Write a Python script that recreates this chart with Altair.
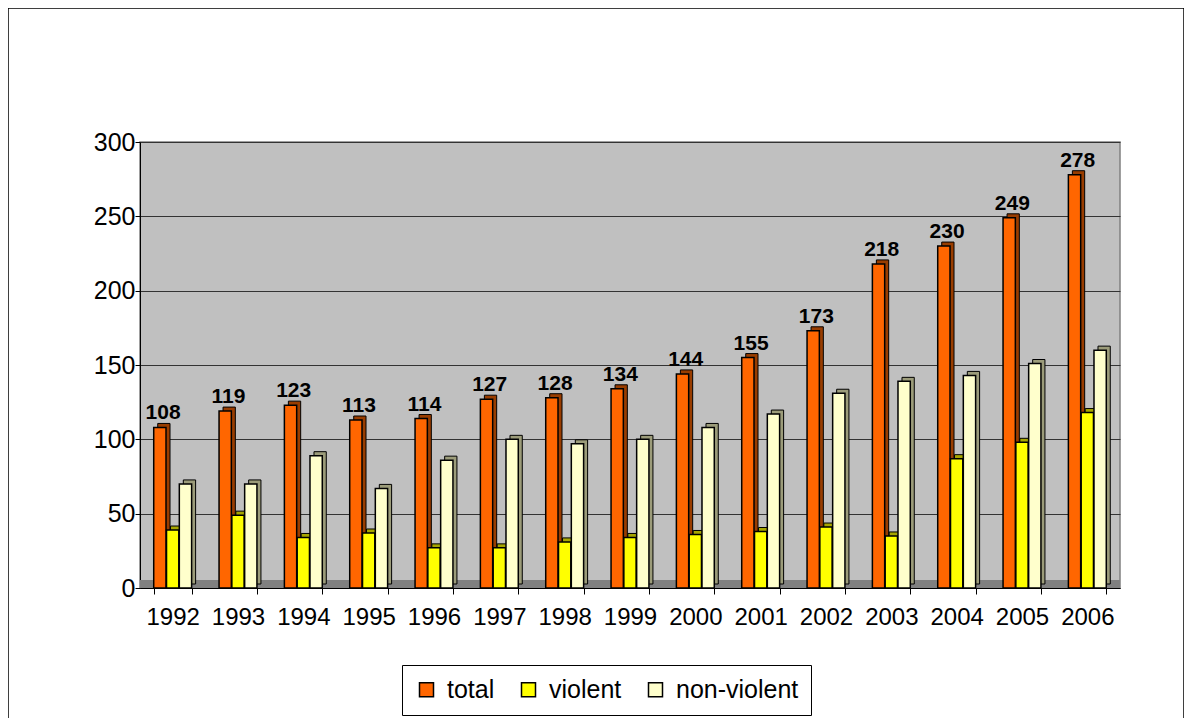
import altair as alt
import pandas as pd

years = [str(y) for y in range(1992, 2007)]
total = [108, 119, 123, 113, 114, 127, 128, 134, 144, 155, 173, 218, 230, 249, 278]
violent = [39, 49, 34, 37, 27, 27, 31, 34, 36, 38, 41, 35, 87, 98, 118]
nonviolent = [70, 70, 89, 67, 86, 100, 97, 100, 108, 117, 131, 139, 143, 151, 160]
series = ["total", "violent", "non-violent"]
colors = ["#FF6600", "#FFFF00", "#FFFFCC"]
dark = ["#993D00", "#A6A600", "#9C9C7A"]
y_ticks = [0, 50, 100, 150, 200, 250, 300]

rows = []
for i, yr in enumerate(years):
    for s, vals, d in zip(series, [total, violent, nonviolent], dark):
        rows.append({"year": yr, "series": s, "value": vals[i], "dark": d})
df = pd.DataFrame(rows)

FONT = "Liberation Sans"
W, H = 980, 446
PI, PO = 0.42, 0.21
step = W / (len(years) - PI + 2 * PO)
band = step * (1 - PI)
DEPTH = 4

x_enc = alt.X("year:N", sort=years,
              scale=alt.Scale(paddingInner=PI, paddingOuter=PO),
              axis=alt.Axis(title=None, labelFontSize=24, labelFont=FONT, labelColor="black",
                            tickBand="extent", domainColor="black", tickColor="black",
                            labelAngle=0, labelPadding=11, tickSize=6, grid=False))
y_enc = alt.Y("value:Q", scale=alt.Scale(domain=[0, 300], nice=False),
              axis=alt.Axis(title=None, values=y_ticks, labelFontSize=25, labelFont=FONT,
                            labelColor="black", domainColor="black", tickColor="black",
                            tickSize=5, labelPadding=0, gridColor="#333333", gridWidth=1))

base = alt.Chart(df)

floor = alt.Chart(pd.DataFrame({"a": [0]})).mark_rect(color="#808080").encode(
    x=alt.value(0), x2=alt.value(W), y=alt.value(H - 8), y2=alt.value(H))

back = base.mark_bar(yOffset=-DEPTH, stroke="black", strokeWidth=1).encode(
    x=x_enc,
    xOffset=alt.XOffset("series:N", sort=series,
                        scale=alt.Scale(domain=series, paddingInner=0.04,
                                        range=[DEPTH, band + DEPTH])),
    y=y_enc,
    color=alt.Color("dark:N", scale=None))

xo_front = alt.XOffset("series:N", sort=series,
                       scale=alt.Scale(domain=series, paddingInner=0.04, range=[0, band]))

bars = base.mark_bar(stroke="black", strokeWidth=1.5).encode(
    x=x_enc, xOffset=xo_front, y=y_enc,
    color=alt.Color("series:N", sort=series,
                    scale=alt.Scale(domain=series, range=colors),
                    legend=alt.Legend(title=None, orient="none", legendX=262, legendY=523,
                                      direction="horizontal", strokeColor="black",
                                      fillColor="white", padding=12, symbolType="square",
                                      symbolSize=196, symbolStrokeColor="black",
                                      symbolStrokeWidth=1.5, labelFontSize=25,
                                      labelFont=FONT, labelColor="black",
                                      columnPadding=21, labelOffset=8)))

labels = base.transform_filter(alt.datum.series == "total").mark_text(
    baseline="bottom", dy=-4, dx=3, fontSize=21, fontWeight="bold", font=FONT, color="black"
).encode(x=x_enc, xOffset=xo_front, y=y_enc, text="value:Q")

frame = alt.Chart(pd.DataFrame({"a": [0]})).mark_rect(
    fill=None, stroke="black", strokeWidth=1.5).encode(
    x=alt.value(-132), x2=alt.value(1044), y=alt.value(-134), y2=alt.value(620))

chart = alt.layer(floor, back, bars, labels, frame).resolve_scale(
    xOffset="independent"
).properties(
    width=W, height=H,
    autosize=alt.AutoSizeParams(type="none"),
    padding={"left": 132, "top": 134, "right": 64, "bottom": 130},
    background="white",
).configure_view(fill="#C0C0C0", stroke="#808080", strokeWidth=1.5)

chart.save("out.html", embed_options={"renderer": "svg", "actions": False})
